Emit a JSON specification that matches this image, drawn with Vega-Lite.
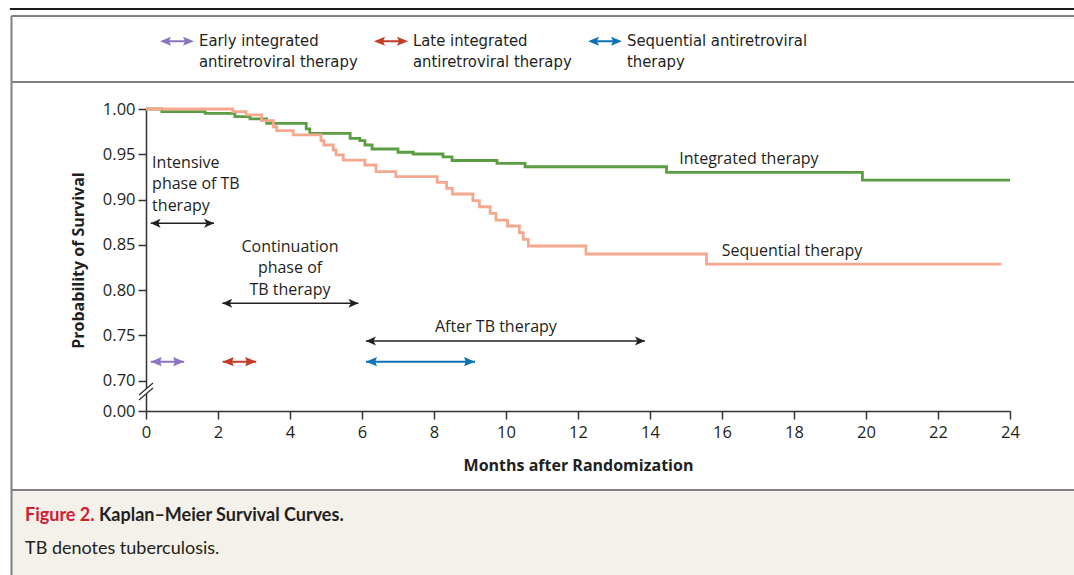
{
  "$schema": "https://vega.github.io/schema/vega-lite/v6.json",
  "width": 864,
  "height": 302,
  "autosize": {"type": "none"},
  "padding": {"left": 146, "top": 109, "right": 64, "bottom": 164},
  "background": "white",
  "config": {
    "view": {"stroke": null},
    "font": "Open Sans",
    "axis": {
      "grid": false,
      "domainColor": "#333333",
      "domainWidth": 1.5,
      "tickColor": "#333333",
      "tickWidth": 1.5,
      "tickSize": 8,
      "labelFont": "Open Sans",
      "labelFontSize": 16.5,
      "labelColor": "#231f20",
      "titleFont": "Open Sans",
      "titleFontSize": 16,
      "titleFontWeight": "bold",
      "titleColor": "#231f20"
    }
  },
  "datasets": {
    "km": [
      {"arm": "Integrated therapy", "month": 0, "surv": 1.0},
      {"arm": "Integrated therapy", "month": 0.44, "surv": 0.997},
      {"arm": "Integrated therapy", "month": 1.64, "surv": 0.9952},
      {"arm": "Integrated therapy", "month": 2.47, "surv": 0.9915},
      {"arm": "Integrated therapy", "month": 2.89, "surv": 0.989},
      {"arm": "Integrated therapy", "month": 3.35, "surv": 0.9842},
      {"arm": "Integrated therapy", "month": 4.45, "surv": 0.978},
      {"arm": "Integrated therapy", "month": 4.55, "surv": 0.9731},
      {"arm": "Integrated therapy", "month": 5.67, "surv": 0.9676},
      {"arm": "Integrated therapy", "month": 5.94, "surv": 0.965},
      {"arm": "Integrated therapy", "month": 6.08, "surv": 0.9602},
      {"arm": "Integrated therapy", "month": 6.28, "surv": 0.9558},
      {"arm": "Integrated therapy", "month": 7.0, "surv": 0.9522},
      {"arm": "Integrated therapy", "month": 7.42, "surv": 0.9503},
      {"arm": "Integrated therapy", "month": 8.25, "surv": 0.947},
      {"arm": "Integrated therapy", "month": 8.5, "surv": 0.9431},
      {"arm": "Integrated therapy", "month": 9.75, "surv": 0.94},
      {"arm": "Integrated therapy", "month": 10.53, "surv": 0.9362},
      {"arm": "Integrated therapy", "month": 14.46, "surv": 0.93},
      {"arm": "Integrated therapy", "month": 19.9, "surv": 0.9215},
      {"arm": "Integrated therapy", "month": 24.0, "surv": 0.9215},
      {"arm": "Sequential therapy", "month": 0, "surv": 1.0},
      {"arm": "Sequential therapy", "month": 2.41, "surv": 0.997},
      {"arm": "Sequential therapy", "month": 2.78, "surv": 0.9934},
      {"arm": "Sequential therapy", "month": 3.21, "surv": 0.9871},
      {"arm": "Sequential therapy", "month": 3.54, "surv": 0.9804},
      {"arm": "Sequential therapy", "month": 3.63, "surv": 0.976},
      {"arm": "Sequential therapy", "month": 4.09, "surv": 0.9713},
      {"arm": "Sequential therapy", "month": 4.86, "surv": 0.965},
      {"arm": "Sequential therapy", "month": 4.94, "surv": 0.9602},
      {"arm": "Sequential therapy", "month": 5.2, "surv": 0.9547},
      {"arm": "Sequential therapy", "month": 5.28, "surv": 0.9492},
      {"arm": "Sequential therapy", "month": 5.48, "surv": 0.9436},
      {"arm": "Sequential therapy", "month": 6.08, "surv": 0.9381},
      {"arm": "Sequential therapy", "month": 6.39, "surv": 0.9307},
      {"arm": "Sequential therapy", "month": 6.94, "surv": 0.9252},
      {"arm": "Sequential therapy", "month": 8.09, "surv": 0.919},
      {"arm": "Sequential therapy", "month": 8.35, "surv": 0.9124},
      {"arm": "Sequential therapy", "month": 8.51, "surv": 0.9061},
      {"arm": "Sequential therapy", "month": 9.08, "surv": 0.8987},
      {"arm": "Sequential therapy", "month": 9.26, "surv": 0.892},
      {"arm": "Sequential therapy", "month": 9.56, "surv": 0.8847},
      {"arm": "Sequential therapy", "month": 9.72, "surv": 0.8773},
      {"arm": "Sequential therapy", "month": 10.04, "surv": 0.8707},
      {"arm": "Sequential therapy", "month": 10.37, "surv": 0.8633},
      {"arm": "Sequential therapy", "month": 10.48, "surv": 0.856},
      {"arm": "Sequential therapy", "month": 10.62, "surv": 0.8486},
      {"arm": "Sequential therapy", "month": 12.22, "surv": 0.8398},
      {"arm": "Sequential therapy", "month": 15.57, "surv": 0.8287},
      {"arm": "Sequential therapy", "month": 23.76, "surv": 0.8287}
    ],
    "phaseArrows": [
      {"phase": "Intensive", "start": 0.13, "end": 1.89, "level": 0.8737},
      {"phase": "Continuation", "start": 2.12, "end": 5.9, "level": 0.7853},
      {"phase": "After", "start": 6.11, "end": 13.86, "level": 0.7436}
    ],
    "artArrows": [
      {"group": "early", "start": 0.13, "end": 1.06, "level": 0.7208},
      {"group": "late", "start": 2.13, "end": 3.06, "level": 0.7208},
      {"group": "sequential", "start": 6.11, "end": 9.14, "level": 0.7208}
    ],
    "notesLeft": [
      {"note": "Intensive\nphase of TB\ntherapy", "month": 0.17, "prob": 0.9351},
      {"note": "Integrated therapy", "month": 14.81, "prob": 0.9392},
      {"note": "Sequential therapy", "month": 15.99, "prob": 0.8376}
    ],
    "notesCenter": [
      {"note": "Continuation\nphase of\nTB therapy", "month": 4.0, "prob": 0.8423},
      {"note": "After TB therapy", "month": 9.72, "prob": 0.7536}
    ]
  },
  "layer": [
    {
      "data": {"values": [{}]},
      "mark": {"type": "rect", "fill": "#f4f0ea", "clip": false},
      "encoding": {
        "x": {"datum": -3.74, "type": "quantitative", "scale": {"domain": [0, 24], "nice": false, "zero": false}},
        "x2": {"datum": 26},
        "y": {"datum": 0.579, "type": "quantitative", "scale": {"domain": [0.6663, 1.0], "nice": false, "zero": false}},
        "y2": {"datum": 0.47}
      }
    },
    {
      "data": {"values": [{}]},
      "mark": {"type": "rule", "stroke": "#1a1a1a", "strokeWidth": 2, "clip": false},
      "encoding": {
        "x": {"datum": -3.78, "type": "quantitative"},
        "x2": {"datum": 26},
        "y": {"datum": 1.1105, "type": "quantitative"}
      }
    },
    {
      "data": {"values": [{}]},
      "mark": {"type": "rule", "stroke": "#808080", "strokeWidth": 2, "clip": false},
      "encoding": {
        "x": {"datum": -3.74, "type": "quantitative"},
        "x2": {"datum": 26},
        "y": {"datum": 1.1028, "type": "quantitative"}
      }
    },
    {
      "data": {"values": [{}]},
      "mark": {"type": "rule", "stroke": "#808080", "strokeWidth": 2, "clip": false},
      "encoding": {
        "x": {"datum": -3.74, "type": "quantitative"},
        "x2": {"datum": 26},
        "y": {"datum": 1.0298, "type": "quantitative"}
      }
    },
    {
      "data": {"values": [{}]},
      "mark": {"type": "rule", "stroke": "#808080", "strokeWidth": 2, "clip": false},
      "encoding": {
        "x": {"datum": -3.74, "type": "quantitative"},
        "x2": {"datum": 26},
        "y": {"datum": 0.579, "type": "quantitative"}
      }
    },
    {
      "data": {"values": [{}]},
      "mark": {"type": "rule", "stroke": "#808080", "strokeWidth": 2, "clip": false},
      "encoding": {
        "x": {"datum": -3.736, "type": "quantitative"},
        "y": {"datum": 1.1028, "type": "quantitative"},
        "y2": {"datum": 0.47}
      }
    },
    {
      "data": {"name": "km"},
      "mark": {"type": "line", "interpolate": "step-after", "strokeWidth": 2.8},
      "encoding": {
        "x": {
          "field": "month", "type": "quantitative",
          "scale": {"domain": [0, 24], "nice": false, "zero": false},
          "axis": {"values": [0, 2, 4, 6, 8, 10, 12, 14, 16, 18, 20, 22, 24], "title": "Months after Randomization", "labelPadding": 5, "titlePadding": 17, "labelFlush": false}
        },
        "y": {
          "field": "surv", "type": "quantitative",
          "scale": {"domain": [0.6663, 1.0], "nice": false, "zero": false},
          "axis": {"values": [0.6663, 0.7, 0.75, 0.8, 0.85, 0.9, 0.95, 1.0], "labelExpr": "datum.value < 0.69 ? '0.00' : format(datum.value, '.2f')", "title": "Probability of Survival", "labelPadding": 3, "titlePadding": 16}
        },
        "stroke": {
          "field": "arm", "type": "nominal",
          "scale": {"domain": ["Integrated therapy", "Sequential therapy"], "range": ["#5a9d42", "#f5a88e"]},
          "legend": null
        }
      }
    },
    {
      "data": {"values": [{}]},
      "mark": {"type": "rule", "stroke": "white", "strokeWidth": 4, "clip": false},
      "encoding": {
        "x": {"datum": -0.194, "type": "quantitative"},
        "x2": {"datum": 0.194},
        "y": {"datum": 0.6812, "type": "quantitative"},
        "y2": {"datum": 0.6945}
      }
    },
    {
      "data": {"values": [{}]},
      "mark": {"type": "rule", "stroke": "#333333", "strokeWidth": 1.3, "clip": false},
      "encoding": {
        "x": {"datum": -0.194, "type": "quantitative"},
        "x2": {"datum": 0.194},
        "y": {"datum": 0.6785, "type": "quantitative"},
        "y2": {"datum": 0.6917}
      }
    },
    {
      "data": {"values": [{}]},
      "mark": {"type": "rule", "stroke": "#333333", "strokeWidth": 1.3, "clip": false},
      "encoding": {
        "x": {"datum": -0.194, "type": "quantitative"},
        "x2": {"datum": 0.194},
        "y": {"datum": 0.684, "type": "quantitative"},
        "y2": {"datum": 0.6972}
      }
    },
    {
      "data": {"name": "phaseArrows"},
      "mark": {"type": "rule", "stroke": "#231f20", "strokeWidth": 1.5},
      "encoding": {
        "x": {"field": "start", "type": "quantitative"},
        "x2": {"field": "end"},
        "y": {"field": "level", "type": "quantitative"}
      }
    },
    {
      "data": {"name": "phaseArrows"},
      "mark": {"type": "point", "shape": "M0,0L1,-0.45L0.75,0L1,0.45Z", "size": 400, "filled": true, "opacity": 1, "color": "#231f20", "strokeWidth": 0},
      "encoding": {
        "x": {"field": "start", "type": "quantitative"},
        "y": {"field": "level", "type": "quantitative"}
      }
    },
    {
      "data": {"name": "phaseArrows"},
      "mark": {"type": "point", "shape": "M0,0L-1,-0.45L-0.75,0L-1,0.45Z", "size": 400, "filled": true, "opacity": 1, "color": "#231f20", "strokeWidth": 0},
      "encoding": {
        "x": {"field": "end", "type": "quantitative"},
        "y": {"field": "level", "type": "quantitative"}
      }
    },
    {
      "data": {"name": "artArrows"},
      "mark": {"type": "rule", "strokeWidth": 2},
      "encoding": {
        "x": {"field": "start", "type": "quantitative"},
        "x2": {"field": "end"},
        "y": {"field": "level", "type": "quantitative"},
        "color": {
          "field": "group", "type": "nominal",
          "scale": {"domain": ["early", "late", "sequential"], "range": ["#8b74bf", "#c33b26", "#0e72b6"]},
          "legend": {
            "orient": "none", "legendX": 14, "legendY": -85, "direction": "horizontal", "title": null,
            "padding": 0, "gridAlign": "each", "columnPadding": 16,
            "symbolType": "M-1,0L-0.35,-0.27L-0.45,-0.06L0.45,-0.06L0.35,-0.27L1,0L0.35,0.27L0.45,0.06L-0.45,0.06L-0.35,0.27Z",
            "symbolSize": 1156, "symbolStrokeWidth": 0, "symbolOpacity": 1,
            "labelExpr": "datum.value == 'early' ? ['Early integrated', 'antiretroviral therapy'] : datum.value == 'late' ? ['Late integrated', 'antiretroviral therapy'] : ['Sequential antiretroviral', 'therapy']",
            "labelFont": "DejaVu Sans Condensed", "labelFontSize": 16.5, "labelColor": "#231f20", "labelOffset": 5, "labelLimit": 400,
            "encode": {
              "symbols": {"update": {"fill": {"scale": "color", "field": "value"}, "stroke": {"value": "transparent"}, "strokeWidth": {"value": 0}, "opacity": {"value": 1}}},
              "labels": {"update": {"lineHeight": {"value": 21}}}
            }
          }
        }
      }
    },
    {
      "data": {"name": "artArrows"},
      "mark": {"type": "point", "shape": "M0,0L1,-0.42L0.85,0L1,0.42Z", "size": 484, "filled": true, "opacity": 1, "strokeWidth": 0},
      "encoding": {
        "x": {"field": "start", "type": "quantitative"},
        "y": {"field": "level", "type": "quantitative"},
        "color": {"field": "group", "type": "nominal"}
      }
    },
    {
      "data": {"name": "artArrows"},
      "mark": {"type": "point", "shape": "M0,0L-1,-0.42L-0.85,0L-1,0.42Z", "size": 484, "filled": true, "opacity": 1, "strokeWidth": 0},
      "encoding": {
        "x": {"field": "end", "type": "quantitative"},
        "y": {"field": "level", "type": "quantitative"},
        "color": {"field": "group", "type": "nominal"}
      }
    },
    {
      "data": {"name": "notesLeft"},
      "mark": {"type": "text", "align": "left", "baseline": "alphabetic", "font": "Open Sans", "fontSize": 16, "lineHeight": 21.7, "lineBreak": "\n", "color": "#231f20"},
      "encoding": {
        "x": {"field": "month", "type": "quantitative"},
        "y": {"field": "prob", "type": "quantitative"},
        "text": {"field": "note"}
      }
    },
    {
      "data": {"name": "notesCenter"},
      "mark": {"type": "text", "align": "center", "baseline": "alphabetic", "font": "Open Sans", "fontSize": 16, "lineHeight": 21.7, "lineBreak": "\n", "color": "#231f20"},
      "encoding": {
        "x": {"field": "month", "type": "quantitative"},
        "y": {"field": "prob", "type": "quantitative"},
        "text": {"field": "note"}
      }
    },
    {
      "data": {"values": [{}]},
      "mark": {"type": "text", "text": "Figure 2.", "font": "Lato", "fontSize": 18, "fontWeight": "bold", "color": "#d0202f", "align": "left", "baseline": "alphabetic", "clip": false},
      "encoding": {
        "x": {"datum": -3.361, "type": "quantitative"},
        "y": {"datum": 0.5448, "type": "quantitative"}
      }
    },
    {
      "data": {"values": [{}]},
      "mark": {"type": "text", "text": "Kaplan–Meier Survival Curves.", "font": "Lato", "fontSize": 18, "fontWeight": "bold", "color": "#231f20", "align": "left", "baseline": "alphabetic", "clip": false},
      "encoding": {
        "x": {"datum": -1.306, "type": "quantitative"},
        "y": {"datum": 0.5448, "type": "quantitative"}
      }
    },
    {
      "data": {"values": [{}]},
      "mark": {"type": "text", "text": "TB denotes tuberculosis.", "font": "Lato", "fontSize": 18, "color": "#231f20", "align": "left", "baseline": "alphabetic", "clip": false},
      "encoding": {
        "x": {"datum": -3.361, "type": "quantitative"},
        "y": {"datum": 0.508, "type": "quantitative"}
      }
    }
  ]
}
